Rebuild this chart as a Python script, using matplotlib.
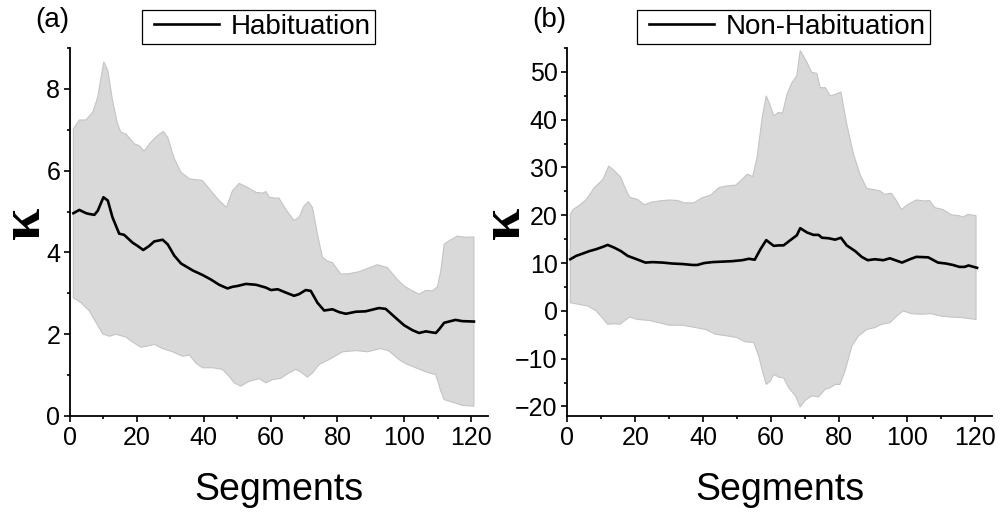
import matplotlib
matplotlib.use("Agg")
from matplotlib import pyplot as plt
from matplotlib.ticker import MultipleLocator
from matplotlib.legend_handler import HandlerLine2D
from matplotlib.lines import Line2D
import numpy as np

plt.rcParams['font.family'] = ['Liberation Sans', 'DejaVu Sans']

#-----------------------Data-----------------------#

# (a) Habituation: mean curvature
a_mean_x = [1.0, 2.8, 4.8, 5.8, 7.3, 8.3, 10.0, 11.3, 12.7, 14.7, 16.2, 18.7, 20.2, 21.9, 23.7,
            25.2, 27.7, 29.2, 31.2, 33.2, 36.7, 39.6, 42.1, 44.6, 47.1, 48.6, 50.1, 52.6, 55.6,
            58.6, 60.1, 62.1, 64.5, 67.0, 68.5, 70.5, 72.0, 74.0, 76.0, 78.5, 80.5, 82.5, 85.5,
            88.4, 92.4, 94.4, 97.4, 99.9, 102.4, 104.4, 106.4, 109.4, 110.4, 111.9, 115.3,
            117.3, 120.8]
a_mean = [4.96, 5.04, 4.96, 4.94, 4.92, 5.02, 5.35, 5.27, 4.86, 4.46, 4.43, 4.24, 4.16, 4.06, 4.16,
          4.27, 4.31, 4.20, 3.92, 3.73, 3.56, 3.45, 3.34, 3.21, 3.12, 3.16, 3.18, 3.23, 3.21,
          3.14, 3.08, 3.10, 3.02, 2.94, 2.98, 3.08, 3.06, 2.77, 2.58, 2.61, 2.54, 2.50, 2.55,
          2.56, 2.64, 2.62, 2.40, 2.22, 2.10, 2.03, 2.07, 2.03, 2.12, 2.28, 2.35,
          2.32, 2.31]

# (a) upper edge of the band
a_up_x = [1.0, 2.8, 4.8, 6.8, 8.3, 10.1, 11.3, 12.7, 14.2, 15.2, 16.7, 19.2, 20.7, 22.2, 24.2,
          26.2, 27.9, 29.2, 31.2, 33.2, 35.7, 39.6, 42.1, 44.6, 46.8, 48.6, 50.6, 53.1, 55.6,
          57.6, 58.6, 59.6, 61.1, 62.5, 64.5, 67.0, 68.5, 70.0, 71.3, 72.5, 74.0, 75.5, 77.0,
          78.5, 81.0, 83.5, 86.5, 89.0, 91.9, 94.9, 97.9, 99.9, 102.4, 104.4, 106.4, 108.4,
          109.9, 110.9, 111.9, 113.3, 115.8, 118.3, 120.8]
a_up = [7.02, 7.24, 7.24, 7.43, 7.80, 8.66, 8.45, 7.72, 7.15, 6.94, 6.90, 6.66, 6.61, 6.48, 6.70,
        6.86, 6.96, 6.82, 6.29, 5.96, 5.80, 5.76, 5.51, 5.27, 5.10, 5.51, 5.69, 5.59, 5.47,
        5.45, 5.49, 5.35, 5.33, 5.33, 5.06, 4.78, 4.86, 5.14, 5.24, 5.10, 4.45, 3.88, 3.79,
        3.75, 3.47, 3.48, 3.53, 3.61, 3.70, 3.63, 3.34, 3.18, 3.06, 2.98, 3.07, 3.06,
        3.16, 3.55, 4.20, 4.28, 4.40, 4.37, 4.38]

# (a) lower edge of the band
a_lo_x = [1.0, 3.3, 5.8, 7.8, 9.8, 11.8, 13.7, 16.7, 18.7, 21.2, 23.2, 25.2, 27.7, 30.7, 33.7,
          35.7, 37.6, 39.6, 42.6, 45.6, 47.6, 49.1, 51.1, 53.6, 56.6, 58.6, 60.6, 63.0, 65.0,
          67.5, 69.0, 71.0, 72.5, 74.5, 77.5, 81.5, 85.5, 89.0, 92.9, 95.4, 98.4, 100.4, 103.4,
          106.4, 109.4, 110.9, 111.9, 114.3, 117.3, 120.8]
a_lo = [2.89, 2.77, 2.57, 2.28, 2.01, 1.95, 2.00, 1.93, 1.81, 1.68, 1.71, 1.75, 1.65, 1.57, 1.46,
        1.49, 1.30, 1.18, 1.18, 1.14, 0.97, 0.81, 0.73, 0.85, 0.91, 0.81, 0.89, 0.92, 1.03,
        1.14, 1.08, 0.95, 1.05, 1.26, 1.38, 1.57, 1.60, 1.57, 1.65, 1.59, 1.38, 1.28, 1.18,
        1.08, 1.01, 0.61, 0.40, 0.34, 0.26, 0.24]

# (b) Non-Habituation: mean curvature
b_mean_x = [0.9, 2.6, 4.6, 6.5, 8.5, 10.5, 11.9, 13.9, 15.8, 17.8, 19.7, 21.2, 23.0, 25.1, 28.1,
            31.0, 33.9, 36.9, 38.3, 40.3, 42.7, 45.7, 48.6, 51.5, 53.5, 55.2, 56.9, 58.6, 60.8,
            62.3, 63.7, 65.7, 67.6, 68.6, 70.6, 72.5, 74.0, 75.0, 76.9, 78.9, 80.6, 82.3, 84.8,
            86.7, 88.5, 90.6, 93.1, 95.0, 97.0, 98.6, 100.9, 102.8, 106.3, 109.2, 111.6, 113.6,
            115.5, 117.0, 118.2, 120.7]
b_mean = [10.8, 11.5, 12.0, 12.5, 12.9, 13.4, 13.8, 13.2, 12.5, 11.5, 11.0, 10.6, 10.1, 10.2, 10.1,
          9.9, 9.8, 9.6, 9.6, 10.0, 10.2, 10.3, 10.4, 10.6, 10.9, 10.7, 12.9, 14.8, 13.6,
          13.7, 13.7, 14.8, 15.8, 17.3, 16.4, 15.9, 15.9, 15.3, 15.2, 14.9, 15.3, 13.7, 12.5,
          11.3, 10.6, 10.8, 10.6, 11.0, 10.5, 10.1, 10.8, 11.3, 11.2, 10.1, 9.9, 9.6,
          9.2, 9.2, 9.5, 9.0]

# (b) upper edge of the band
b_up_x = [0.9, 1.7, 3.6, 5.6, 8.0, 10.5, 12.2, 13.9, 15.8, 16.8, 18.3, 20.7, 22.7, 24.6, 27.1,
          30.0, 32.5, 34.4, 37.3, 39.8, 42.2, 44.7, 46.6, 49.6, 51.5, 53.0, 54.6, 55.9, 57.4,
          58.6, 59.8, 60.8, 62.1, 63.4, 64.7, 66.2, 67.6, 68.6, 70.6, 72.0, 73.5, 74.5, 76.0,
          77.4, 78.9, 80.6, 82.3, 84.3, 86.2, 88.2, 90.1, 92.1, 93.4, 95.5, 97.0, 98.4, 100.4,
          102.8, 105.3, 106.7, 108.2, 110.7, 113.1, 115.5, 116.5, 118.0, 120.4]
b_up = [20.2, 21.2, 22.1, 23.3, 25.8, 27.5, 30.3, 29.3, 27.9, 26.1, 23.8, 23.3, 22.2, 22.7, 23.0,
        23.2, 23.1, 22.6, 22.6, 23.7, 24.2, 25.8, 26.1, 26.3, 27.5, 28.6, 28.1, 32.1, 40.4,
        45.0, 42.9, 40.8, 41.5, 41.4, 45.3, 47.8, 49.2, 54.5, 52.0, 49.9, 49.7, 46.7, 46.7,
        45.0, 45.3, 45.8, 39.1, 32.8, 28.6, 25.6, 25.4, 25.1, 24.4, 24.6, 23.0, 21.2, 22.3,
        23.2, 23.0, 23.1, 21.6, 21.2, 20.1, 19.9, 19.6, 20.2, 19.9]

# (b) lower edge of the band
b_lo_x = [0.9, 3.1, 6.1, 8.5, 10.5, 11.9, 13.9, 15.5, 18.3, 20.7, 24.1, 27.1, 30.0, 33.9, 37.8,
          40.8, 43.7, 47.6, 50.0, 52.5, 54.9, 56.4, 57.6, 58.6, 59.8, 60.8, 62.3, 63.7, 65.2,
          67.2, 68.6, 70.1, 72.0, 74.0, 76.0, 77.4, 78.9, 80.3, 81.8, 83.8, 85.7, 88.2, 90.6,
          92.6, 95.0, 97.0, 98.9, 101.4, 104.3, 107.2, 110.2, 113.1, 116.0, 120.4]
b_lo = [1.7, 1.4, 1.0, 0.0, -1.6, -2.8, -2.7, -2.8, -1.3, -1.8, -2.0, -2.5, -3.0, -3.0, -3.5,
        -3.9, -4.9, -5.3, -5.6, -6.5, -6.6, -9.5, -12.9, -15.4, -14.7, -13.3, -13.9, -14.0, -16.1,
        -17.8, -20.1, -18.7, -17.8, -18.0, -16.4, -16.1, -15.4, -15.4, -12.6, -7.4, -5.3, -3.9, -3.5,
        -2.8, -2.5, -1.1, 0.0, -0.6, -0.7, -0.6, -1.1, -1.3, -1.4, -1.8]

panels = [
    dict(mean_x=a_mean_x, mean=a_mean, up_x=a_up_x, up=a_up, lo_x=a_lo_x, lo=a_lo,
         name='Habituation', tag='(a)', ylim=(0, 9), ymajor=2, yminor=1),
    dict(mean_x=b_mean_x, mean=b_mean, up_x=b_up_x, up=b_up, lo_x=b_lo_x, lo=b_lo,
         name='Non-Habituation', tag='(b)', ylim=(-22, 55), ymajor=10, yminor=5),
]

#---------------------------Figure---------------------------#

fig = plt.figure(figsize=(10.03, 5.13), dpi=100)
axes_rects = [[0.0698, 0.1891, 0.4167, 0.7173], [0.5656, 0.1891, 0.4231, 0.7173]]
tag_pos = [(0.052, 0.961), (0.548, 0.961)]
legend_anchor = [(0.1715, 1.011), (0.1635, 1.011)]
ylabel_x = [-0.108, -0.147]

for i, p in enumerate(panels):
    ax = fig.add_axes(axes_rects[i])

    # grey band = upper edge then lower edge reversed
    band_x = np.concatenate([p['up_x'], p['lo_x'][::-1]])
    band_y = np.concatenate([p['up'], p['lo'][::-1]])
    ax.fill(band_x, band_y, facecolor='#d9d9d9', edgecolor='#c4c4c4', linewidth=0.8, zorder=1)
    line, = ax.plot(p['mean_x'], p['mean'], color='black', linewidth=1.9, label=p['name'], zorder=2)

    ax.set_xlim(0, 125)
    ax.set_ylim(*p['ylim'])
    ax.xaxis.set_major_locator(MultipleLocator(20))
    ax.xaxis.set_minor_locator(MultipleLocator(10))
    ax.yaxis.set_major_locator(MultipleLocator(p['ymajor']))
    ax.yaxis.set_minor_locator(MultipleLocator(p['yminor']))

    for side in ['top', 'right']:
        ax.spines[side].set_visible(False)
    for side in ['left', 'bottom']:
        ax.spines[side].set_linewidth(1.3)
    ax.tick_params(which='major', direction='out', length=4, width=1.2, labelsize=18, pad=3)
    ax.tick_params(which='minor', direction='out', length=2.5, width=1.2)

    ax.set_xlabel('Segments', fontsize=27, va='center')
    ax.xaxis.set_label_coords(0.5, -0.2)
    ax.set_ylabel('κ', family=['Liberation Serif', 'DejaVu Serif'], fontweight='bold',
                  fontsize=42, va='center')
    ax.yaxis.set_label_coords(ylabel_x[i], 0.524)

    leg = ax.legend(handler_map={Line2D: HandlerLine2D(xpad=0.3)},
                    loc='lower left', bbox_to_anchor=legend_anchor[i], borderaxespad=0,
                    fontsize=20, fancybox=False, edgecolor='black', framealpha=1,
                    handlelength=2.65, handletextpad=0.4, borderpad=0.15)
    leg.get_frame().set_linewidth(0.9)

    fig.text(tag_pos[i][0], tag_pos[i][1], p['tag'], fontsize=20, ha='center', va='center')

fig.savefig('out.png', dpi=100)
